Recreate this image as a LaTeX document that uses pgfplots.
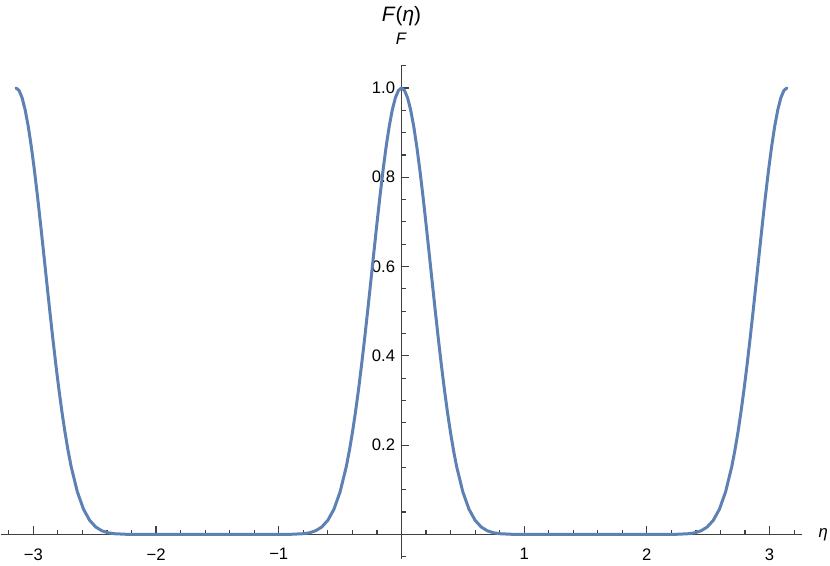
\documentclass[border=0pt]{standalone}
\usepackage{fontspec}
\setmainfont{Liberation Sans}
\usepackage{pgfplots}
\usepackage{pgfplotstable}
\pgfplotsset{compat=1.18}
\definecolor{mma}{rgb}{0.368417,0.506779,0.709798}
\definecolor{axgray}{gray}{0.25}
\pgfplotstableread{
x y
-3.1416 1
-3.1166 0.99439
-3.0916 0.97774
-3.0666 0.95059
-3.0416 0.91379
-3.0166 0.86850
-2.9916 0.81606
-2.9666 0.75800
-2.9416 0.69598
-2.9166 0.63157
-2.8916 0.56638
-2.8666 0.50189
-2.8416 0.43935
-2.8166 0.37993
-2.7916 0.32441
-2.7666 0.27350
-2.7416 0.22761
-2.7166 0.18694
-2.6916 0.15145
-2.6416 0.09530
-2.5916 0.05657
-2.5416 0.03157
-2.4916 0.01649
-2.4416 0.00802
-2.3916 0.00361
-2.3416 0.00150
-2.2416 0.00019
-2.1416 0.00002
-2.0 0
-1.0 0.00002
-0.9 0.00019
-0.8 0.00150
-0.75 0.00361
-0.7 0.00802
-0.65 0.01649
-0.6 0.03157
-0.55 0.05657
-0.5 0.09530
-0.45 0.15145
-0.425 0.18694
-0.4 0.22761
-0.375 0.27350
-0.35 0.32441
-0.325 0.37993
-0.3 0.43935
-0.275 0.50189
-0.25 0.56638
-0.225 0.63157
-0.2 0.69598
-0.175 0.75800
-0.15 0.81606
-0.125 0.86850
-0.1 0.91379
-0.075 0.95059
-0.05 0.97774
-0.025 0.99439
0 1
0.025 0.99439
0.05 0.97774
0.075 0.95059
0.1 0.91379
0.125 0.86850
0.15 0.81606
0.175 0.75800
0.2 0.69598
0.225 0.63157
0.25 0.56638
0.275 0.50189
0.3 0.43935
0.325 0.37993
0.35 0.32441
0.375 0.27350
0.4 0.22761
0.425 0.18694
0.45 0.15145
0.5 0.09530
0.55 0.05657
0.6 0.03157
0.65 0.01649
0.7 0.00802
0.75 0.00361
0.8 0.00150
0.9 0.00019
1.0 0.00002
2.0 0
2.1416 0.00002
2.2416 0.00019
2.3416 0.00150
2.3916 0.00361
2.4416 0.00802
2.4916 0.01649
2.5416 0.03157
2.5916 0.05657
2.6416 0.09530
2.6916 0.15145
2.7166 0.18694
2.7416 0.22761
2.7666 0.27350
2.7916 0.32441
2.8166 0.37993
2.8416 0.43935
2.8666 0.50189
2.8916 0.56638
2.9166 0.63157
2.9416 0.69598
2.9666 0.75800
2.9916 0.81606
3.0166 0.86850
3.0416 0.91379
3.0666 0.95059
3.0916 0.97774
3.1166 0.99439
3.1416 1
}\datatable
\begin{document}
\begin{tikzpicture}
\begin{axis}[name=ax, scale only axis, width=481.1pt, height=296pt,
  xmin=-3.267, xmax=3.267, ymin=-0.055, ymax=1.05,
  axis lines=middle,
  axis line style={-, axgray, line width=0.7pt},
  xtick={-3,-2,-1,1,2,3}, xticklabels={−3,−2,−1,1,2,3},
  minor xtick={-3.2,-2.8,-2.6,-2.4,-2.2,-1.8,-1.6,-1.4,-1.2,-0.8,-0.6,-0.4,-0.2,0.2,0.4,0.6,0.8,1.2,1.4,1.6,1.8,2.2,2.4,2.6,2.8,3.2},
  ytick={0.2,0.4,0.6,0.8,1.0}, yticklabels={0.2,0.4,0.6,0.8,1.0},
  minor ytick={-0.05,0.05,0.1,0.15,0.25,0.3,0.35,0.45,0.5,0.55,0.65,0.7,0.75,0.85,0.9,0.95,1.05},
  tick align=inside,
  major tick length=4.8pt, minor tick length=2.8pt,
  every tick/.style={axgray, line width=0.7pt},
  xticklabel style={font=\fontsize{10}{12}\selectfont, anchor=north, inner sep=0pt, yshift=-8.2pt},
  yticklabel style={font=\fontsize{10}{12}\selectfont, anchor=east, inner sep=0pt, xshift=-3.6pt},
  xlabel={\textit{η}}, ylabel={\textit{F}}, title={\textit{F}(\textit{η})},
  every axis x label/.style={at={(axis cs:3.267,0)}, anchor=west, inner sep=0pt, xshift=9.5pt, font=\fontsize{10}{12}\selectfont},
  every axis y label/.style={at={(axis cs:0,1.05)}, anchor=base, inner sep=0pt, yshift=12.4pt, font=\fontsize{10}{12}\selectfont},
  every axis title/.style={at={(axis cs:0,1.05)}, anchor=base, inner sep=0pt, yshift=26.2pt, font=\fontsize{12.5}{14}\selectfont},
  clip=false,
]
\addplot[mma, line width=1.8pt, line join=round, line cap=round] table[x=x,y=y] {\datatable};
\end{axis}
\pgfresetboundingbox
\path[use as bounding box] ([shift={(-0.36pt,-4.2pt)}]ax.south west) rectangle ([shift={(16.6pt,39.4pt)}]ax.north east);
\end{tikzpicture}
\end{document}
